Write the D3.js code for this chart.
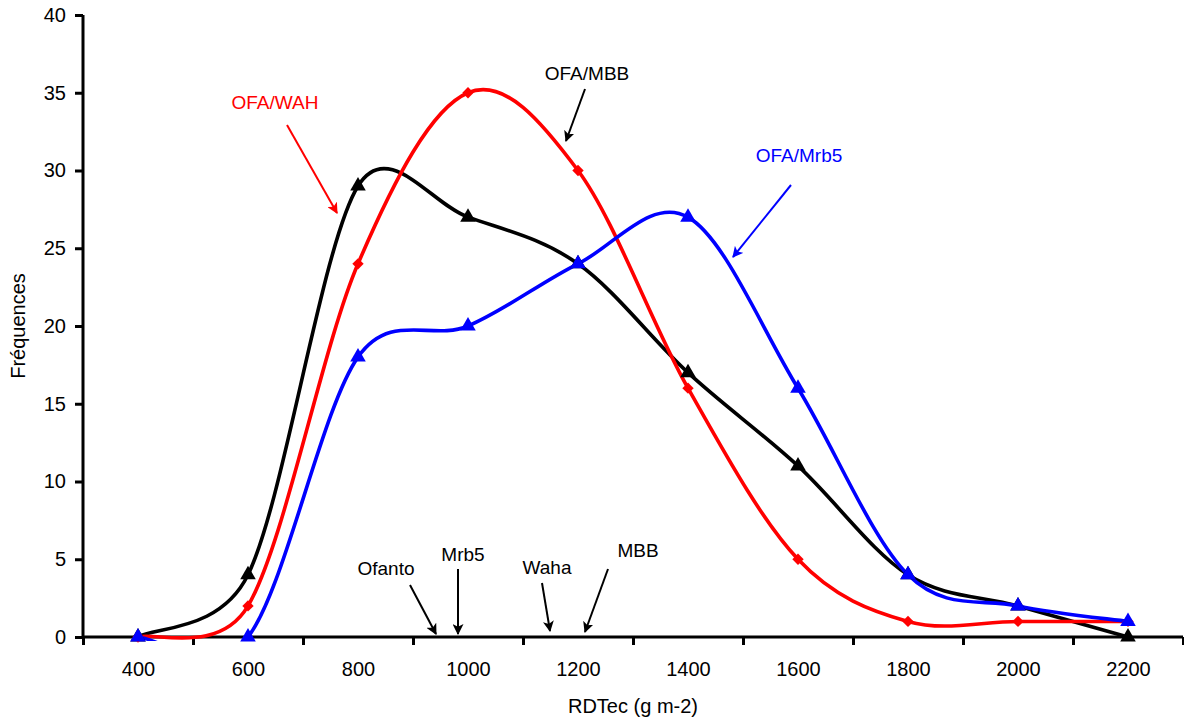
<!DOCTYPE html>
<html>
<head>
<meta charset="utf-8">
<script src="https://cdn.jsdelivr.net/npm/d3@7"></script>
<style>
  body { margin: 0; background: #fff; }
  text { font-family: "Liberation Sans", Arial, sans-serif; }
</style>
</head>
<body>
<svg id="chart" width="1184" height="722"></svg>
<script>
const categories = [400, 600, 800, 1000, 1200, 1400, 1600, 1800, 2000, 2200];
const mbbValues  = [0, 4, 29, 27, 24, 17, 11, 4, 2, 0];
const wahValues  = [0, 2, 24, 35, 30, 16, 5, 1, 1, 1];
const mrb5Values = [0, 0, 18, 20, 24, 27, 16, 4, 2, 1];
const yTicks = [0, 5, 10, 15, 20, 25, 30, 35, 40];
const xBoundaries = [300, 500, 700, 900, 1100, 1300, 1500, 1700, 1900, 2100, 2300];

const seriesList = [
  { name: "OFA/MBB", values: mbbValues, color: "#000000", symbol: d3.symbolTriangle, size: 105, rot: 0 },
  { name: "OFA/WAH", values: wahValues, color: "#ff0000", symbol: d3.symbolSquare, size: 64, rot: 45 },
  { name: "OFA/Mrb5", values: mrb5Values, color: "#0000ff", symbol: d3.symbolTriangle, size: 105, rot: 0 }
];

const cultivarNotes = [
  { label: "Ofanto", tx: 386, ty: 575, x1: 410, y1: 585, x2: 436, y2: 634 },
  { label: "Mrb5",   tx: 463, ty: 561, x1: 458, y1: 569, x2: 458, y2: 634 },
  { label: "Waha",   tx: 547, ty: 574, x1: 542, y1: 583, x2: 550, y2: 631 },
  { label: "MBB",    tx: 638, ty: 557, x1: 608, y1: 569, x2: 585, y2: 632 }
];
const seriesNotes = [
  { label: "OFA/WAH",  color: "#ff0000", tx: 275, ty: 109, x1: 287, y1: 125, x2: 337, y2: 213 },
  { label: "OFA/MBB",  color: "#000000", tx: 587, ty: 80,  x1: 585, y1: 89,  x2: 566, y2: 141 },
  { label: "OFA/Mrb5", color: "#0000ff", tx: 799, ty: 162, x1: 791, y1: 185, x2: 733, y2: 257 }
];

const svg = d3.select("#chart");
const plotLeft = 83, plotRight = 1183, plotTop = 15, plotBottom = 637;

const x = d3.scaleLinear().domain([300, 2300]).range([plotLeft, plotRight]);
const y = d3.scaleLinear().domain([0, 40]).range([plotBottom, plotTop]);

const defs = svg.append("defs");
["#000000", "#ff0000", "#0000ff"].forEach((c, i) => {
  defs.append("marker")
    .attr("id", "arrow" + i)
    .attr("viewBox", "0 0 10 10")
    .attr("refX", 9).attr("refY", 5)
    .attr("markerWidth", 5.5).attr("markerHeight", 5.5)
    .attr("markerUnits", "strokeWidth")
    .attr("orient", "auto")
    .append("path")
    .attr("d", "M0,0 L10,5 L0,10 L2.5,5 Z")
    .attr("fill", c);
});
defs.append("clipPath").attr("id", "plotClip")
  .append("rect")
  .attr("x", plotLeft).attr("y", 0)
  .attr("width", plotRight - plotLeft).attr("height", plotBottom + 4);

const yAxis = svg.append("g")
  .attr("transform", `translate(${plotLeft},0)`)
  .call(d3.axisLeft(y).tickValues(yTicks).tickSize(8).tickPadding(9).tickFormat(d3.format("d")));
yAxis.select(".domain").attr("stroke", "#000").attr("stroke-width", 3).attr("d", `M0,${plotTop}V${plotBottom}`);
yAxis.selectAll(".tick line").attr("stroke", "#000").attr("stroke-width", 3);
yAxis.selectAll(".tick text").attr("font-size", 20).attr("fill", "#000")
  .attr("font-family", "Liberation Sans, Arial, sans-serif");

const xAxis = svg.append("g")
  .attr("transform", `translate(0,${plotBottom})`)
  .call(d3.axisBottom(x).tickValues(xBoundaries).tickSize(8).tickFormat(""));
xAxis.select(".domain").attr("stroke", "#000").attr("stroke-width", 3).attr("d", `M${plotLeft},0H${plotRight}`);
xAxis.selectAll(".tick line").attr("stroke", "#000").attr("stroke-width", 3);

const xLabels = svg.append("g")
  .attr("transform", `translate(0,${plotBottom})`)
  .call(d3.axisBottom(x).tickValues(categories).tickSize(0).tickPadding(25).tickFormat(d3.format("d")));
xLabels.select(".domain").remove();
xLabels.selectAll(".tick text").attr("font-size", 20).attr("fill", "#000")
  .attr("font-family", "Liberation Sans, Arial, sans-serif");

svg.append("text")
  .attr("x", (plotLeft + plotRight) / 2).attr("y", 713)
  .attr("text-anchor", "middle").attr("font-size", 20)
  .text("RDTec (g m-2)");
svg.append("text")
  .attr("transform", `translate(25,326) rotate(-90)`)
  .attr("text-anchor", "middle").attr("font-size", 20)
  .text("Fréquences");

// Spreadsheet-style smoothed line: Bezier segments whose control arms are capped at half a segment
function smoothPath(values) {
  const pts = values.map((v, i) => [x(categories[i]), y(v)]);
  const dist = (a, b) => Math.hypot(a[0] - b[0], a[1] - b[1]);
  const p = d3.path();
  p.moveTo(pts[0][0], pts[0][1]);
  for (let i = 0; i < pts.length - 1; i++) {
    const P0 = pts[Math.max(i - 1, 0)], P1 = pts[i], P2 = pts[i + 1], P3 = pts[Math.min(i + 2, pts.length - 1)];
    const d02 = dist(P0, P2), d12 = dist(P1, P2), d13 = dist(P1, P3);
    let f0 = 1 / 6, f1 = 1 / 6;
    if (d02 / 6 >= d12 / 2 && d02 > 0) f0 = d12 / d02 / 2;
    if (d13 / 6 >= d12 / 2 && d13 > 0) f1 = d12 / d13 / 2;
    const c1 = [P1[0] + (P2[0] - P0[0]) * f0, P1[1] + (P2[1] - P0[1]) * f0];
    const c2 = [P2[0] - (P3[0] - P1[0]) * f1, P2[1] - (P3[1] - P1[1]) * f1];
    p.bezierCurveTo(c1[0], c1[1], c2[0], c2[1], P2[0], P2[1]);
  }
  return p.toString();
}

const linesG = svg.append("g").attr("clip-path", "url(#plotClip)");
seriesList.forEach(s => {
  linesG.append("path")
    .attr("fill", "none")
    .attr("stroke", s.color)
    .attr("stroke-width", 3.6)
    .attr("stroke-linejoin", "round")
    .attr("d", smoothPath(s.values));
});
seriesList.forEach(s => {
  svg.append("g").selectAll("path")
    .data(s.values)
    .join("path")
    .attr("transform", (d, i) => `translate(${x(categories[i])},${y(d)}) rotate(${s.rot})`)
    .attr("d", d3.symbol().type(s.symbol).size(s.size))
    .attr("fill", s.color);
});

cultivarNotes.forEach(n => {
  svg.append("text").attr("x", n.tx).attr("y", n.ty)
    .attr("text-anchor", "middle").attr("font-size", 19).attr("fill", "#000").text(n.label);
  svg.append("line").attr("x1", n.x1).attr("y1", n.y1).attr("x2", n.x2).attr("y2", n.y2)
    .attr("stroke", "#000").attr("stroke-width", 2).attr("marker-end", "url(#arrow0)");
});

const colorIdx = { "#000000": 0, "#ff0000": 1, "#0000ff": 2 };
seriesNotes.forEach(n => {
  svg.append("text").attr("x", n.tx).attr("y", n.ty)
    .attr("text-anchor", "middle").attr("font-size", 19).attr("fill", n.color).text(n.label);
  svg.append("line").attr("x1", n.x1).attr("y1", n.y1).attr("x2", n.x2).attr("y2", n.y2)
    .attr("stroke", n.color).attr("stroke-width", 2).attr("marker-end", `url(#arrow${colorIdx[n.color]})`);
});
</script>
</body>
</html>
